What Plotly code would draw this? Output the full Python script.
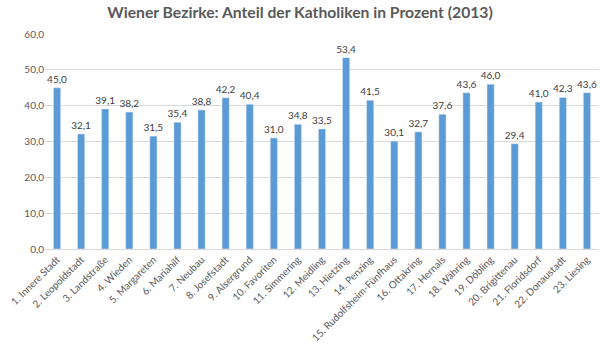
import plotly.graph_objects as go

districts = ["1. Innere Stadt", "2. Leopoldstadt", "3. Landstraße", "4. Wieden", "5. Margareten",
             "6. Mariahilf", "7. Neubau", "8. Josefstadt", "9. Alsergrund", "10. Favoriten",
             "11. Simmering", "12. Meidling", "13. Hietzing", "14. Penzing",
             "15. Rudolfsheim-Fünfhaus", "16. Ottakring", "17. Hernals", "18. Währing",
             "19. Döbling", "20. Brigittenau", "21. Floridsdorf", "22. Donaustadt", "23. Liesing"]
catholic_pct = [45.0, 32.1, 39.1, 38.2, 31.5, 35.4, 38.8, 42.2, 40.4, 31.0, 34.8, 33.5, 53.4,
                41.5, 30.1, 32.7, 37.6, 43.6, 46.0, 29.4, 41.0, 42.3, 43.6]
y_ticks = [0, 10, 20, 30, 40, 50, 60]

fig = go.Figure(go.Bar(
    x=districts, y=catholic_pct,
    marker_color="#5B9BD5",
    texttemplate="%{y:.1f}", textposition="outside",
    textfont=dict(size=10, color="#404040"),
    constraintext="none",
    cliponaxis=False,
))
fig.update_layout(
    width=600, height=351,
    separators=",.",
    paper_bgcolor="white", plot_bgcolor="white",
    font=dict(family="Lato, Open Sans, sans-serif", color="#595959"),
    title=dict(text="<b>Wiener Bezirke: Anteil der Katholiken in Prozent (2013)</b>",
               x=0.5, xanchor="center", y=0.965, yanchor="middle",
               font=dict(size=15.7, color="#595959")),
    margin=dict(l=45, r=1, t=34, b=102),
    bargap=0.7,
    showlegend=False,
)
fig.update_yaxes(range=[0, 60], tickvals=y_ticks, tickformat=".1f",
                 gridcolor="#D9D9D9", gridwidth=1, zeroline=False,
                 tickfont=dict(size=10, color="#595959"), ticks="", ticklen=0,
                 showline=False)
fig.update_xaxes(tickangle=-45, tickfont=dict(size=10, color="#595959"),
                 showline=True, linecolor="#D9D9D9", ticks="")
fig.write_html("out.html")
